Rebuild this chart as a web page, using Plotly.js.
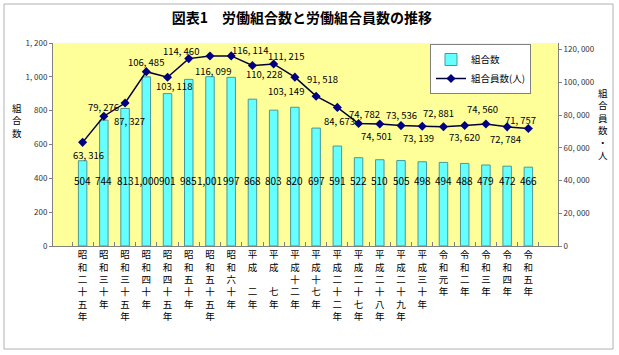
<!DOCTYPE html>
<html>
<head>
<meta charset="utf-8">
<script src="https://cdn.plot.ly/plotly-3.0.1.min.js"></script>
<style>
  html, body { margin: 0; padding: 0; background: #fff; }
  #chart { width: 619px; height: 355px; }
</style>
</head>
<body>
<div id="chart"></div>
<script>
// ---- data ----
const categories = [
  "昭和二十五年", "昭和三十年", "昭和三十五年", "昭和四十年", "昭和四十五年",
  "昭和五十年", "昭和五十五年", "昭和六十年", "平成　二年", "平成　七年",
  "平成十二年", "平成十七年", "平成二十二年", "平成二十七年", "平成二十八年",
  "平成二十九年", "平成三十年", "令和元年", "令和二年", "令和三年",
  "令和四年", "令和五年"
];
const unionCount = [504, 744, 813, 1000, 901, 985, 1001, 997, 868, 803, 820,
  697, 591, 522, 510, 505, 498, 494, 488, 479, 472, 466];
const memberCount = [63316, 79276, 87327, 106485, 103118, 114460, 116099, 116114,
  110228, 111215, 103149, 91518, 84673, 74782, 74501, 73536, 73139, 72881,
  73620, 74560, 72784, 71757];
const leftTickVals = [0, 200, 400, 600, 800, 1000, 1200];
const leftTickText = ["0", "200", "400", "600", "800", "1, 000", "1, 200"];
const rightTickVals = [0, 20000, 40000, 60000, 80000, 100000, 120000];
const rightTickText = ["0", "20, 000", "40, 000", "60, 000", "80, 000", "100, 000", "120, 000"];
const seriesNames = ["組合数", "組合員数(人)"];
const titleText = "図表1　労働組合数と労働組合員数の推移";
const leftTitle = "組合数";
const rightTitle = "組合員数・人";

// ---- label placement (style only, pixels) ----
const memberLabelDx = [6, 0, 4, 0, 6, -8, 3, 19, 12, 12, -9, 6, 2, 6, -3, 0, -4, -5, 0, -3, -2, -8];
const memberLabelDy = [13, -9, 18, -10, 9, -8, 15, -6, 8, -8, 14, -17, 14, -10, 12, -11, 12, -14, 12, -15, 12, -9];

// ---- geometry helpers ----
const W = 619, H = 355;
const M = { l: 53, r: 61, t: 43, b: 109 };
const PW = W - M.l - M.r, PH = H - M.t - M.b;
const px = x => (x - M.l) / PW;
const py = y => (H - M.b - y) / PH;
const FONT = "Noto Sans CJK JP, Noto Sans, sans-serif";

const fmtSpace = n => n.toLocaleString("en-US").replace(/,/g, ", ");
const fmt = n => n.toLocaleString("en-US");
const vertical = s => Array.from(s).join("<br>");

const annotations = [];

// bar value labels
categories.forEach((c, i) => {
  annotations.push({
    x: c, xref: "x", y: 385, yref: "y", text: fmt(unionCount[i]),
    showarrow: false, xanchor: "center", yanchor: "middle",
    font: { family: FONT, size: 10, color: "#000" }
  });
});

// line value labels
categories.forEach((c, i) => {
  annotations.push({
    x: c, xref: "x", y: memberCount[i], yref: "y2", text: fmtSpace(memberCount[i]),
    showarrow: false, xanchor: "center", yanchor: "middle",
    xshift: memberLabelDx[i], yshift: -memberLabelDy[i],
    font: { family: FONT, size: 9.5, color: "#000" }
  });
});

// axis titles (vertical)
annotations.push({
  x: px(17), xref: "paper", y: py(120), yref: "paper", text: vertical(leftTitle),
  showarrow: false, xanchor: "center", yanchor: "middle",
  font: { family: FONT, size: 9.5, color: "#000" }
});
annotations.push({
  x: px(603), xref: "paper", y: py(124), yref: "paper", text: vertical(rightTitle),
  showarrow: false, xanchor: "center", yanchor: "middle",
  font: { family: FONT, size: 9.5, color: "#000" }
});

const traces = [
  {
    type: "bar", name: seriesNames[0], x: categories, y: unionCount, yaxis: "y",
    width: 0.4,
    marker: { color: "#66ffff", line: { color: "#4a9999", width: 1 } },
    hoverinfo: "skip"
  },
  {
    type: "scatter", mode: "lines+markers", name: seriesNames[1],
    x: categories, y: memberCount, yaxis: "y2",
    line: { color: "#000033", width: 1.5 },
    marker: { symbol: "diamond", size: 7, color: "#000080" },
    hoverinfo: "skip"
  }
];

const layout = {
  width: W, height: H,
  margin: M,
  paper_bgcolor: "#ffffff",
  plot_bgcolor: "#ffff99",
  font: { family: FONT, color: "#000" },
  showlegend: true,
  title: {
    text: titleText, xref: "container", x: 302 / W, xanchor: "center",
    yref: "container", y: 1 - 18 / H, yanchor: "middle",
    font: { family: FONT, size: 14, weight: "bold", color: "#000" }
  },
  xaxis: {
    type: "category", tickmode: "array", tickvals: categories,
    ticktext: categories.map(vertical), tickangle: 0,
    tickfont: { family: FONT, size: 9.5, color: "#000" },
    showgrid: false, zeroline: false,
    showline: true, linecolor: "#808080", linewidth: 1,
    ticks: "inside", tickson: "boundaries", ticklen: 4, tickcolor: "#808080",
    fixedrange: true
  },
  yaxis: {
    range: [0, 1200], tickvals: leftTickVals, ticktext: leftTickText,
    showgrid: false, zeroline: false, showline: true, linecolor: "#808080", linewidth: 1,
    ticks: "outside", ticklen: 3, tickcolor: "#808080",
    tickfont: { family: FONT, size: 8, color: "#333" }
  },
  yaxis2: {
    overlaying: "y", side: "right", range: [0, 124000],
    tickvals: rightTickVals, ticktext: rightTickText,
    showgrid: false, zeroline: false, showline: true, linecolor: "#808080", linewidth: 1,
    ticks: "outside", ticklen: 3, tickcolor: "#808080",
    tickfont: { family: FONT, size: 8, color: "#333" }
  },
  legend: {
    x: px(430), xanchor: "left", y: py(44), yanchor: "top",
    bgcolor: "#ffffff", bordercolor: "#808080", borderwidth: 1,
    font: { family: FONT, size: 9.5, color: "#000" },
    itemwidth: 30, tracegroupgap: 0
  },
  annotations: annotations,
  shapes: [{
    type: "rect", xref: "paper", yref: "paper",
    x0: px(4), x1: px(613), y0: py(349), y1: py(4),
    line: { color: "#b0b0b0", width: 1 }, fillcolor: "rgba(0,0,0,0)", layer: "below"
  }]
};

Plotly.newPlot("chart", traces, layout, { staticPlot: true, displayModeBar: false });
</script>
</body>
</html>
